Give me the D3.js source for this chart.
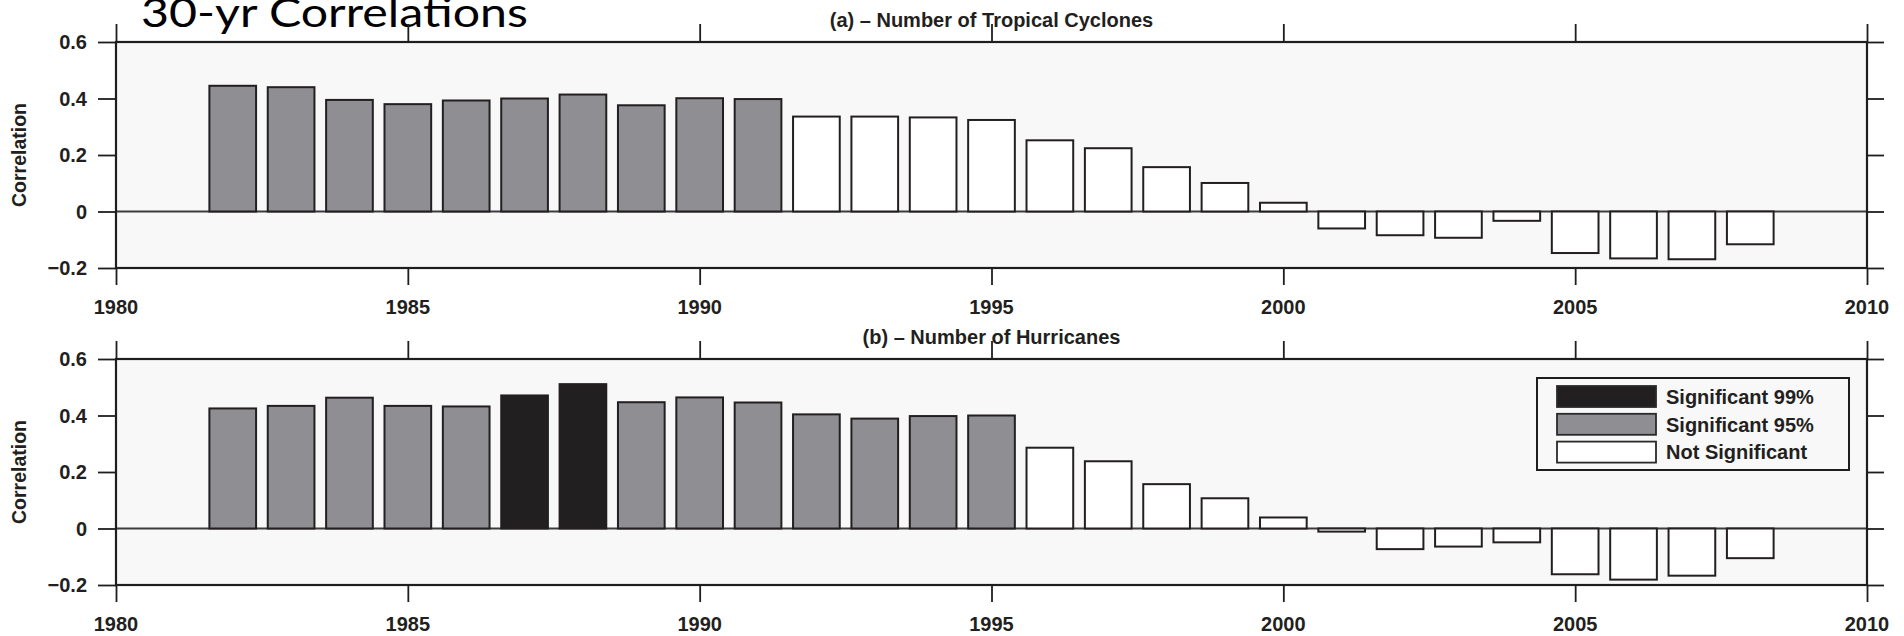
<!DOCTYPE html>
<html>
<head>
<meta charset="utf-8">
<script src="https://cdn.jsdelivr.net/npm/d3@7"></script>
<style>
  html, body { margin: 0; padding: 0; background: #ffffff; }
  svg { display: block; }
  text { font-family: "Liberation Sans", Arial, Helvetica, sans-serif; font-weight: bold; fill: #231f20; }
</style>
</head>
<body>
<svg id="chart" width="1904" height="636"></svg>
<script>
// Years at the end of each 30-yr window
const years = [1982, 1983, 1984, 1985, 1986, 1987, 1988, 1989, 1990, 1991,
               1992, 1993, 1994, 1995, 1996, 1997, 1998, 1999, 2000, 2001,
               2002, 2003, 2004, 2005, 2006, 2007, 2008];

// (a) correlation with number of tropical cyclones
const cycloneCorr = [0.445, 0.440, 0.395, 0.380, 0.393, 0.400, 0.414, 0.376, 0.401, 0.398,
                     0.336, 0.336, 0.333, 0.324, 0.252, 0.224, 0.157, 0.101, 0.031, -0.060,
                     -0.084, -0.093, -0.033, -0.147, -0.166, -0.169, -0.116];
const cycloneSig = ["95", "95", "95", "95", "95", "95", "95", "95", "95", "95",
                    "ns", "ns", "ns", "ns", "ns", "ns", "ns", "ns", "ns", "ns",
                    "ns", "ns", "ns", "ns", "ns", "ns", "ns"];

// (b) correlation with number of hurricanes
const hurricaneCorr = [0.425, 0.434, 0.463, 0.434, 0.432, 0.471, 0.511, 0.447, 0.464, 0.446,
                       0.404, 0.389, 0.398, 0.400, 0.286, 0.238, 0.157, 0.107, 0.039, -0.011,
                       -0.073, -0.064, -0.049, -0.162, -0.181, -0.167, -0.105];
const hurricaneSig = ["95", "95", "95", "95", "95", "99", "99", "95", "95", "95",
                      "95", "95", "95", "95", "ns", "ns", "ns", "ns", "ns", "ns",
                      "ns", "ns", "ns", "ns", "ns", "ns", "ns"];

const xTicks = [1980, 1985, 1990, 1995, 2000, 2005, 2010];
const yTicks = [-0.2, 0, 0.2, 0.4, 0.6];
const yTickLabels = ["\u22120.2", "0", "0.2", "0.4", "0.6"];

const sigKeys = ["99", "95", "ns"];
const sigLabels = ["Significant 99%", "Significant 95%", "Not Significant"];
const sigColor = d3.scaleOrdinal().domain(sigKeys).range(["#221f20", "#8f8e93", "#ffffff"]);

const svg = d3.select("#chart");
const ink = "#231f20";
const labelSize = "20px";

const x = d3.scaleLinear().domain([1980, 2010]).range([116, 1867]);
const barWidth = 0.8;

// Main heading
svg.append("text")
  .attr("x", 141).attr("y", 27)
  .attr("textLength", 387).attr("lengthAdjust", "spacingAndGlyphs")
  .style("font-family", "Lato, 'Open Sans', sans-serif")
  .style("font-weight", "normal")
  .style("font-size", "40px")
  .style("fill", "#000")
  .text("30-yr Correlations");

const panels = [
  { title: "(a) \u2013 Number of Tropical Cyclones", values: cycloneCorr, sig: cycloneSig,
    top: 42, bottom: 268, titleY: 27, legend: false },
  { title: "(b) \u2013 Number of Hurricanes", values: hurricaneCorr, sig: hurricaneSig,
    top: 359, bottom: 585, titleY: 344, legend: true }
];

panels.forEach(p => {
  const y = d3.scaleLinear().domain([-0.2, 0.6]).range([p.bottom, p.top]);
  const g = svg.append("g");
  const [xl, xr] = x.range();

  // plot area background
  g.append("rect")
    .attr("x", xl).attr("y", p.top)
    .attr("width", xr - xl).attr("height", p.bottom - p.top)
    .attr("fill", "#f8f8f8");

  // zero reference line
  g.append("line")
    .attr("x1", xl).attr("x2", xr)
    .attr("y1", y(0)).attr("y2", y(0))
    .attr("stroke", "#3c3c3c").attr("stroke-width", 1.8);

  // bars
  const data = years.map((yr, i) => ({ year: yr, value: p.values[i], sig: p.sig[i] }));
  g.selectAll("rect.bar").data(data).join("rect")
    .attr("class", "bar")
    .attr("x", d => x(d.year - barWidth / 2))
    .attr("width", d => x(d.year + barWidth / 2) - x(d.year - barWidth / 2))
    .attr("y", d => y(Math.max(0, d.value)))
    .attr("height", d => Math.abs(y(d.value) - y(0)))
    .attr("fill", d => sigColor(d.sig))
    .attr("stroke", ink).attr("stroke-width", 2);

  // frame
  g.append("rect")
    .attr("x", xl).attr("y", p.top)
    .attr("width", xr - xl).attr("height", p.bottom - p.top)
    .attr("fill", "none").attr("stroke", "#1e1e1e").attr("stroke-width", 2.2);

  // outward ticks on all four sides
  const styleAxis = sel => {
    sel.select(".domain").remove();
    sel.selectAll(".tick line").attr("stroke", "#1e1e1e").attr("stroke-width", 1.8);
  };
  g.append("g").attr("transform", `translate(0,${p.top})`)
    .call(d3.axisTop(x).tickValues(xTicks).tickSize(18).tickFormat(""))
    .call(styleAxis);
  g.append("g").attr("transform", `translate(0,${p.bottom})`)
    .call(d3.axisBottom(x).tickValues(xTicks).tickSize(17).tickFormat(""))
    .call(styleAxis);
  g.append("g").attr("transform", `translate(${xl},0)`)
    .call(d3.axisLeft(y).tickValues(yTicks).tickSize(18).tickFormat(""))
    .call(styleAxis);
  g.append("g").attr("transform", `translate(${xr},0)`)
    .call(d3.axisRight(y).tickValues(yTicks).tickSize(17).tickFormat(""))
    .call(styleAxis);

  // tick labels
  g.selectAll("text.xlab").data(xTicks).join("text")
    .attr("class", "xlab")
    .attr("x", d => x(d)).attr("y", p.bottom + 46)
    .attr("text-anchor", "middle")
    .style("font-size", labelSize)
    .text(d => d);
  g.selectAll("text.ylab").data(yTicks).join("text")
    .attr("class", "ylab")
    .attr("x", 87).attr("y", d => y(d)).attr("dy", "0.36em")
    .attr("text-anchor", "end")
    .style("font-size", labelSize)
    .text((d, i) => yTickLabels[i]);

  // axis title
  g.append("text")
    .attr("transform", `translate(26,${(p.top + p.bottom) / 2}) rotate(-90)`)
    .attr("text-anchor", "middle")
    .style("font-size", "19.5px")
    .text("Correlation");

  // panel title
  g.append("text")
    .attr("x", (xl + xr) / 2).attr("y", p.titleY)
    .attr("text-anchor", "middle")
    .style("font-size", labelSize)
    .text(p.title);

  if (p.legend) {
    const lg = g.append("g");
    lg.append("rect")
      .attr("x", 1537).attr("y", 378).attr("width", 312).attr("height", 92)
      .attr("fill", "#f8f8f8").attr("stroke", "#1e1e1e").attr("stroke-width", 2);
    const rows = lg.selectAll("g.row").data(sigKeys).join("g")
      .attr("class", "row")
      .attr("transform", (d, i) => `translate(1557,${386 + i * 27.8})`);
    rows.append("rect")
      .attr("width", 99).attr("height", 21)
      .attr("fill", d => sigColor(d))
      .attr("stroke", "#2a2a2a").attr("stroke-width", 1.8);
    rows.append("text")
      .attr("x", 109).attr("y", 10.5).attr("dy", "0.36em")
      .style("font-size", labelSize)
      .text((d, i) => sigLabels[i]);
  }
});
</script>
</body>
</html>
